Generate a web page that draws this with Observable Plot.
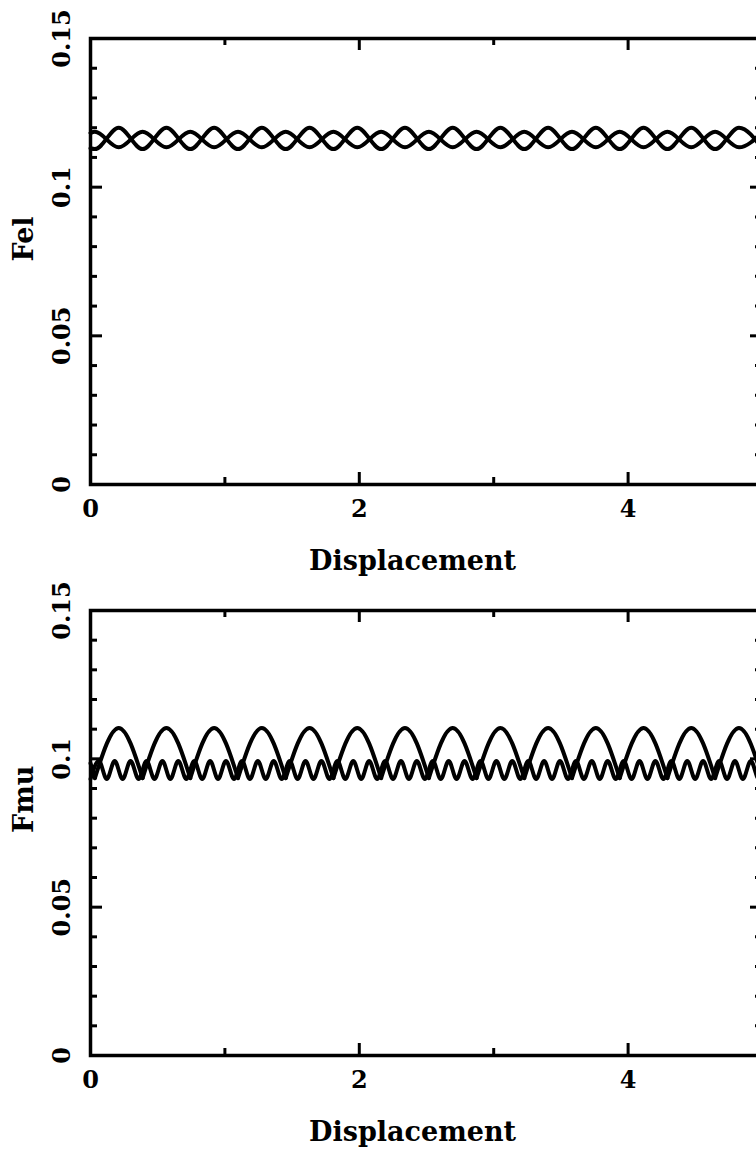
<!DOCTYPE html>
<html>
<head>
<meta charset="utf-8">
<script src="https://cdn.jsdelivr.net/npm/d3@7"></script>
<script src="https://cdn.jsdelivr.net/npm/@observablehq/plot@0.6"></script>
<style>
  html, body { margin: 0; padding: 0; background: #fff; overflow: hidden; width: 756px; }
  #chart { width: 756px; height: 1150px; overflow: hidden; position: relative; }
  #chart svg { display: block; max-width: none !important; height: auto; }
</style>
</head>
<body>
<div id="chart"></div>
<script>
// ---- Data ----
const xMajorTicks = [0, 2, 4];
const xMinorTicks = [1, 3, 5];
const yMajorTicks = [0, 0.05, 0.1, 0.15];
const yMinorTicks = [0.01, 0.02, 0.03, 0.04, 0.06, 0.07, 0.08, 0.09, 0.11, 0.12, 0.13, 0.14];
const yTickLabels = ["0", "0.05", "0.1", "0.15"];
const xTickLabels = ["0", "2", "4"];

// positions of the slow oscillation maxima (Fel curve 1 peaks, Fmu arch tops)
const slowPeaksX = [0.21, 0.565, 0.92, 1.275, 1.63, 1.985, 2.34, 2.695, 3.05, 3.405, 3.76, 4.115, 4.47, 4.825];
// positions of the slow oscillation minima (Fmu arch cusps)
const slowValleysX = [0.0325, 0.3875, 0.7425, 1.0975, 1.4525, 1.8075, 2.1625, 2.5175, 2.8725, 3.2275, 3.5825, 3.9375, 4.2925, 4.6475, 5.0];

// Fel: two oscillating series (levels read at maxima / minima)
const fel1Start = 0.1131, fel1Peak = 0.1200, fel1Trough = 0.1128;
const fel2Start = 0.1182, fel2Peak = 0.1186, fel2Trough = 0.1134;

// Fmu: arch series
const fmuArchStart = 0.0985, fmuArchPeak = 0.1104, fmuArchCusp = 0.0935;
// Fmu: fast oscillating series
const fmuFastPeaksX = [0.062, 0.180, 0.298, 0.417, 0.535, 0.653, 0.772, 0.890, 1.008, 1.127, 1.245, 1.363, 1.482, 1.600, 1.718, 1.837, 1.955, 2.073, 2.192, 2.310, 2.428, 2.547, 2.665, 2.783, 2.902, 3.020, 3.138, 3.257, 3.375, 3.493, 3.612, 3.730, 3.848, 3.967, 4.085, 4.203, 4.322, 4.440, 4.558, 4.677, 4.795, 4.913];
const fmuFastTroughsX = [0.0, 0.121, 0.239, 0.358, 0.476, 0.594, 0.713, 0.831, 0.949, 1.068, 1.186, 1.304, 1.423, 1.541, 1.659, 1.778, 1.896, 2.014, 2.133, 2.251, 2.369, 2.488, 2.606, 2.724, 2.843, 2.961, 3.079, 3.198, 3.316, 3.434, 3.553, 3.671, 3.789, 3.908, 4.026, 4.144, 4.263, 4.381, 4.499, 4.618, 4.736, 4.854, 4.973];
const fmuFastPeak = 0.0993, fmuFastTrough = 0.0932, fmuFastEnd = 0.0940;

// ---- Build series tables ----
const byX = (a, b) => a.x - b.x;
const fel1 = [{x: 0, y: fel1Start},
  ...slowPeaksX.map(x => ({x, y: fel1Peak})),
  ...slowValleysX.map(x => ({x, y: fel1Trough}))].sort(byX);
const fel2 = [{x: 0, y: fel2Start},
  ...slowValleysX.map(x => ({x, y: fel2Peak})),
  ...slowPeaksX.map(x => ({x, y: fel2Trough}))].sort(byX);

const fmuArch = [{x: 0, y: fmuArchStart, z: -1}, {x: slowValleysX[0], y: fmuArchCusp, z: -1}];
slowPeaksX.forEach((px, i) => {
  fmuArch.push({x: slowValleysX[i], y: fmuArchCusp, z: i});
  fmuArch.push({x: px, y: fmuArchPeak, z: i});
  fmuArch.push({x: slowValleysX[i + 1], y: fmuArchCusp, z: i});
});
const fmuFast = [
  ...fmuFastPeaksX.map(x => ({x, y: fmuFastPeak})),
  ...fmuFastTroughsX.map(x => ({x, y: fmuFastTrough})),
  {x: 5.0, y: fmuFastEnd}].sort(byX);

// ---- Chart ----
const FONT = "DejaVu Serif";
const W = 772, ML = 90, MR = 10;

function panel({height, marginTop, marginBottom, yLabel, lines}) {
  const innerH = height - marginTop - marginBottom;
  const majorLen = 12, minorLen = 7, innerW = W - ML - MR;
  const txt = {fontFamily: FONT, fontWeight: "bold", fontSize: 24, fill: "black"};
  const ttl = {fontFamily: FONT, fontWeight: "bold", fontSize: 27, fill: "black"};
  const tk = {stroke: "black", strokeWidth: 3};
  return Plot.plot({
    width: W, height, marginLeft: ML, marginRight: MR, marginTop, marginBottom,
    x: {domain: [0, 5], axis: null},
    y: {domain: [0, 0.15], axis: null},
    style: {background: "white", overflow: "visible"},
    marks: [
      ...lines.map(l => Plot.line(l.data, {x: "x", y: "y", z: l.z ? "z" : null, stroke: "black", strokeWidth: 4, curve: "monotone-x"})),
      Plot.ruleX(xMajorTicks, {x: d => d, insetTop: innerH - majorLen, ...tk}),
      Plot.ruleX(xMinorTicks, {x: d => d, insetTop: innerH - minorLen, ...tk}),
      Plot.ruleX(xMajorTicks, {x: d => d, insetBottom: innerH - majorLen, ...tk}),
      Plot.ruleX(xMinorTicks, {x: d => d, insetBottom: innerH - minorLen, ...tk}),
      Plot.ruleY(yMajorTicks, {y: d => d, insetRight: innerW - majorLen, ...tk}),
      Plot.ruleY(yMinorTicks, {y: d => d, insetRight: innerW - minorLen, ...tk}),
      Plot.ruleY(yMajorTicks, {y: d => d, insetLeft: innerW - majorLen, ...tk}),
      Plot.ruleY(yMinorTicks, {y: d => d, insetLeft: innerW - minorLen, ...tk}),
      Plot.frame({stroke: "black", strokeWidth: 3.5}),
      Plot.text(xMajorTicks, {x: d => d, text: (d, i) => xTickLabels[i], frameAnchor: "bottom", dy: 25, lineAnchor: "middle", ...txt}),
      Plot.text(yMajorTicks, {y: d => d, text: (d, i) => yTickLabels[i], frameAnchor: "left", dx: -28, rotate: -90, textAnchor: "middle", lineAnchor: "middle", ...txt}),
      Plot.text(["Displacement"], {frameAnchor: "bottom", dx: -14, dy: 77, lineAnchor: "middle", ...ttl}),
      Plot.text([yLabel], {frameAnchor: "left", dx: -66, rotate: -90, lineAnchor: "middle", ...ttl})
    ]
  });
}

const topPanel = panel({height: 590, marginTop: 38, marginBottom: 106, yLabel: "Fel",
  lines: [{data: fel1}, {data: fel2}]});
const bottomPanel = panel({height: 560, marginTop: 20, marginBottom: 95, yLabel: "Fmu",
  lines: [{data: fmuArch, z: true}, {data: fmuFast}]});

document.getElementById("chart").append(topPanel, bottomPanel);
</script>
</body>
</html>
